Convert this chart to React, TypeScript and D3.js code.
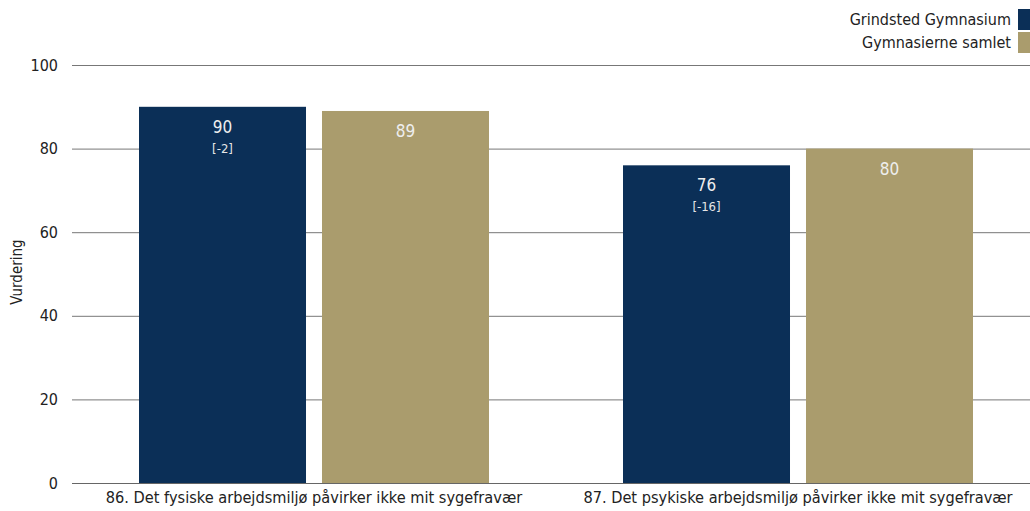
import React from "react";
import * as d3 from "d3";

const categories = [
  "86. Det fysiske arbejdsmiljø påvirker ikke mit sygefravær",
  "87. Det psykiske arbejdsmiljø påvirker ikke mit sygefravær",
];
const seriesNames = ["Grindsted Gymnasium", "Gymnasierne samlet"];
const schoolValues = [90, 76];
const schoolDiffs = ["[-2]", "[-16]"];
const allValues = [89, 80];
const yTicks = [0, 20, 40, 60, 80, 100];
const colors = ["#0b2f57", "#aa9c6d"];

const W = 1030;
const H = 511;
const FONT = "'DejaVu Sans Condensed', 'DejaVu Sans', Verdana, sans-serif";

export default function App() {
  const x0 = d3.scaleBand<string>().domain(categories).range([72, 1040]).paddingInner(0).paddingOuter(0);
  const inner = d3.scaleBand<string>().domain(seriesNames).range([0, 350]).paddingInner(0.0874);
  const groupOffset = (x0.bandwidth() - 350) / 2;
  const y = d3.scaleLinear().domain([0, 100]).range([483, 65]);

  const series = [schoolValues, allValues];

  return (
    <svg width={W} height={H} style={{ position: "absolute", left: 0, top: 0, background: "#fff" }} fontFamily={FONT}>
      {yTicks.map((t) => (
        <g key={t}>
          <line x1={72} x2={W} y1={y(t) + 0.5} y2={y(t) + 0.5} stroke={t === 0 ? "#666" : "#777"} strokeWidth={1} />
          <text x={58} y={y(t)} dy="0.35em" textAnchor="end" fontSize={16} fill="#222">{t}</text>
        </g>
      ))}
      <text transform={`translate(22,272) rotate(-90)`} textAnchor="middle" fontSize={15} fill="#222">Vurdering</text>
      {categories.map((c, i) => {
        const gx = (x0(c) as number) + groupOffset;
        return (
          <g key={c}>
            {series.map((vals, s) => {
              const bx = gx + (inner(seriesNames[s]) as number);
              const bw = inner.bandwidth();
              const v = vals[i];
              return (
                <g key={s}>
                  <rect x={bx} y={y(v)} width={bw} height={y(0) - y(v)} fill={colors[s]} />
                  <text x={bx + bw / 2} y={y(v) + 26} textAnchor="middle" fontSize={17} fill="#eeeeee">{v}</text>
                  {s === 0 && (
                    <text x={bx + bw / 2} y={y(v) + 46} textAnchor="middle" fontSize={13} fill="#e6e6e6">{schoolDiffs[i]}</text>
                  )}
                </g>
              );
            })}
            <text x={(x0(c) as number) + x0.bandwidth() / 2} y={503} textAnchor="middle" fontSize={16.2} fill="#222">{c}</text>
          </g>
        );
      })}
      {seriesNames.map((n, s) => (
        <g key={n}>
          <text x={1011} y={25 + s * 23} textAnchor="end" fontSize={16} fill="#222">{n}</text>
          <rect x={1018} y={9 + s * 23} width={14} height={21} fill={colors[s]} />
        </g>
      ))}
    </svg>
  );
}
